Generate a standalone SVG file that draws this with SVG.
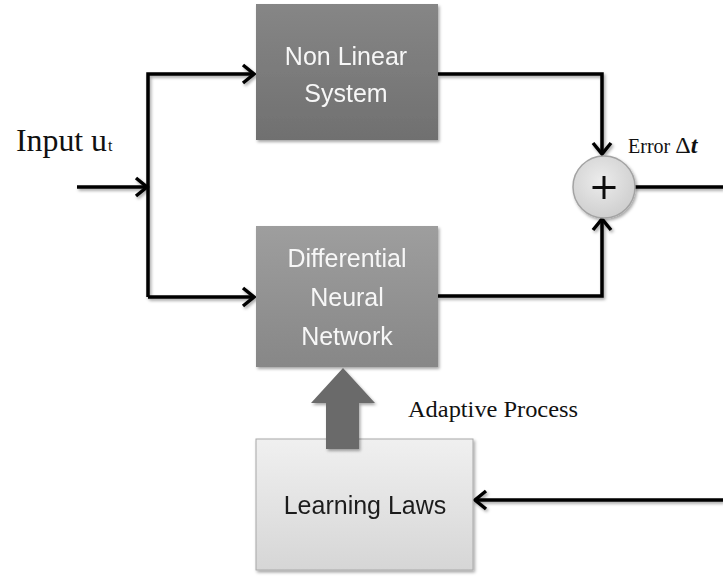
<svg xmlns="http://www.w3.org/2000/svg" width="723" height="579" viewBox="0 0 723 579">
<style>
.box-text{font-family:"Liberation Sans",Arial,sans-serif;font-size:25px;text-anchor:middle}
.wt{fill:#f7f7f7}
.dk{fill:#1e1e1e}
.serif{font-family:"Liberation Serif","Times New Roman",serif;fill:#111}
.wire{fill:none;stroke:#000;stroke-width:3.5;stroke-linejoin:miter}
</style>
<defs>
<linearGradient id="gNL" x1="0" y1="0" x2="0" y2="1"><stop offset="0" stop-color="#868686"/><stop offset="1" stop-color="#707070"/></linearGradient>
<linearGradient id="gDNN" x1="0" y1="0" x2="0" y2="1"><stop offset="0" stop-color="#9e9e9e"/><stop offset="1" stop-color="#878787"/></linearGradient>
<linearGradient id="gLL" x1="0" y1="0" x2="0" y2="1"><stop offset="0" stop-color="#f0f0f0"/><stop offset="1" stop-color="#d6d6d6"/></linearGradient>
<radialGradient id="gC" cx="0.45" cy="0.4" r="0.6"><stop offset="0" stop-color="#ececec"/><stop offset="1" stop-color="#cfcfcf"/></radialGradient>
<filter id="sh" x="-10%" y="-10%" width="130%" height="130%"><feDropShadow dx="1.5" dy="2" stdDeviation="1.5" flood-color="#000" flood-opacity="0.35"/></filter>
<marker id="chev" markerUnits="userSpaceOnUse" markerWidth="30" markerHeight="30" viewBox="-15 -15 30 30" refX="0" refY="0" orient="auto" overflow="visible">
<path d="M -11 -9 L 0 0 L -11 9" fill="none" stroke="#000" stroke-width="3.5" stroke-linejoin="miter"/>
</marker>
</defs>

<g id="connectors" filter="url(#sh)">
<path class="wire" d="M 77 187 L 147 187" marker-end="url(#chev)"/>
<path class="wire" d="M 148 297 L 148 74 L 254 74" marker-end="url(#chev)"/>
<path class="wire" d="M 148 297 L 254 297" marker-end="url(#chev)"/>
<path class="wire" d="M 438 74 L 602 74 L 602 154" marker-end="url(#chev)"/>
<path class="wire" d="M 438 296 L 602 296 L 602 219" marker-end="url(#chev)"/>
<path class="wire" d="M 634 187 L 723 187"/>
<path class="wire" d="M 723 500 L 475 500" marker-end="url(#chev)"/>
</g>

<g id="nonlinear" filter="url(#sh)">
<rect x="256" y="4" width="182" height="136" fill="url(#gNL)"/>
<text class="box-text wt" x="346" y="65">Non Linear</text>
<text class="box-text wt" x="346" y="102">System</text>
</g>

<g id="dnn" filter="url(#sh)">
<rect x="256" y="226" width="182" height="141" fill="url(#gDNN)"/>
<text class="box-text wt" x="347" y="267">Differential</text>
<text class="box-text wt" x="347" y="306">Neural</text>
<text class="box-text wt" x="347" y="345">Network</text>
</g>

<g id="sum" filter="url(#sh)">
<circle cx="604" cy="187" r="31" fill="url(#gC)" stroke="#a3a3a3" stroke-width="1.5"/>
<path d="M 604 176 L 604 199 M 592.5 187.5 L 615.5 187.5" stroke="#111" stroke-width="3"/>
</g>

<g id="learning" filter="url(#sh)">
<rect x="256" y="439" width="217" height="131" fill="url(#gLL)" stroke="#a8a8a8" stroke-width="1"/>
<text class="box-text dk" x="365" y="514">Learning Laws</text>
</g>

<g id="adaptive-arrow" filter="url(#sh)">
<polygon points="343,368 375,403 359,403 359,449 326,449 326,403 311,403" fill="#6a6a6a"/>
</g>

<g id="labels">
<text class="serif" x="16" y="151" font-size="31" textLength="91" lengthAdjust="spacingAndGlyphs">Input u</text>
<text class="serif" x="108" y="151" font-size="16">t</text>
<text class="serif" x="628" y="153" font-size="20">Error <tspan font-size="24">Δ</tspan><tspan font-size="24" font-weight="bold" font-style="italic">t</tspan></text>
<text class="serif" x="408" y="417" font-size="24" textLength="170" lengthAdjust="spacingAndGlyphs">Adaptive Process</text>
</g>
</svg>
